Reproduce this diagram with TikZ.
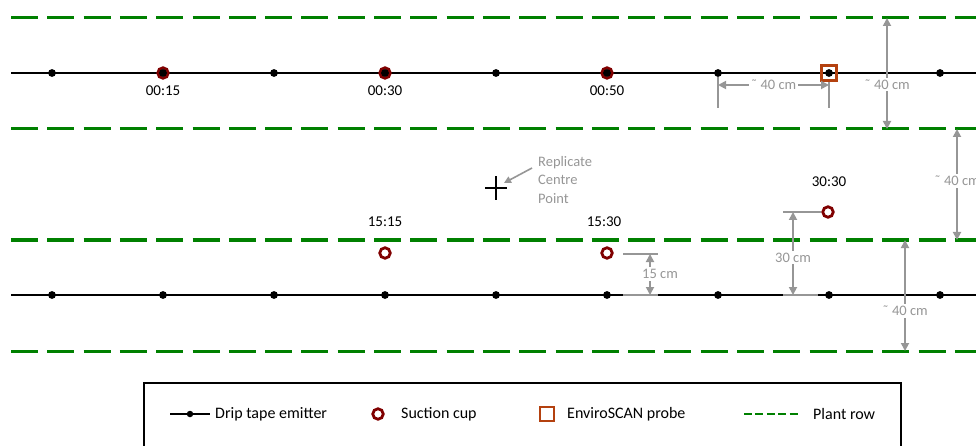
\documentclass[tikz,border=0pt]{standalone}
\usepackage{fontspec}
\setmainfont{Carlito}
\usetikzlibrary{arrows.meta}
\definecolor{rowgreen}{RGB}{0,128,0}
\definecolor{cupred}{RGB}{128,0,0}
\definecolor{probecol}{RGB}{180,65,15}
\definecolor{dimgray}{RGB}{150,150,150}
\begin{document}
\begin{tikzpicture}[x=1pt,y=-1pt,
  plantrow/.style={draw=rowgreen,line width=3pt,dash pattern=on 27pt off 9.3pt},
  drip/.style={draw=black,line width=1.8pt},
  emitter/.style={circle,fill=black,inner sep=0pt,minimum size=7.8pt},
  cup/.style={circle,draw=cupred,line width=2.8pt,inner sep=0pt,minimum size=10.5pt},
  probebox/.style={rectangle,draw=probecol,line width=2.6pt,inner sep=0pt,minimum size=15pt},
  dimarrow/.style={draw=dimgray,line width=1.8pt,{Triangle[length=8pt,width=8pt]}-{Triangle[length=8pt,width=8pt]}},
  dimline/.style={draw=dimgray,line width=1.8pt},
  dimlabel/.style={fill=white,text=dimgray,font=\fontsize{14.5}{16}\selectfont,inner sep=2pt},
  tlabel/.style={font=\fontsize{15}{18}\selectfont},
  legtext/.style={anchor=west,font=\fontsize{16}{19}\selectfont,inner sep=0pt},
  ]
\useasboundingbox (0,0) rectangle (976,446);

% plant rows
\foreach \y/\n in {18/1,129/2,240/3,351/4}{
  \coordinate (pl\n) at (11,\y);
  \coordinate (pr\n) at (976,\y);
  \draw[plantrow] (pl\n) -- (pr\n);
}

% drip tapes
\coordinate (dtl) at (11,73);  \coordinate (dtr) at (976,73);
\coordinate (dbl) at (11,295); \coordinate (dbr) at (976,295);
\draw[drip] (dtl) -- (dtr);
\draw[drip] (dbl) -- (dbr);

% top row suction cups (behind emitters)
\node[cup] (c0015) at (163,73) {};
\node[cup] (c0030) at (385,73) {};
\node[cup] (c0050) at (607,73) {};
\node[probebox] (probe) at (829,73) {};

% emitters
\foreach \i [evaluate=\i as \x using 52+111*(\i-1)] in {1,...,9}{
  \node[emitter] (t\i) at (\x,73) {};
  \node[emitter] (b\i) at (\x,295) {};
}

% labels top row
\node[tlabel] (l0015) at (163,91) {00:15};
\node[tlabel] (l0030) at (385,91) {00:30};
\node[tlabel] (l0050) at (607,91) {00:50};

% lower cups
\node[cup] (c1515) at (385,253) {};
\node[cup] (c1530) at (607,253) {};
\node[cup] (c3030) at (828,212) {};
\node[tlabel] (l1515) at (385,222) {15:15};
\node[tlabel] (l1530) at (604,222) {15:30};
\node[tlabel] (l3030) at (829,182) {30:30};

% replicate centre point
\node[inner sep=0pt,minimum size=0pt] (rcp) at (496,188) {};
\draw[line width=2pt] ([xshift=-11pt]rcp.center) -- ([xshift=11pt]rcp.center);
\draw[line width=2pt] ([yshift=-12pt]rcp.center) -- ([yshift=12pt]rcp.center);
\node[anchor=west,align=left,text=dimgray,font=\fontsize{14.5}{18.5}\selectfont,inner sep=0pt] (rcptext) at (538,180) {Replicate\\Centre\\Point};
\coordinate (rcpfrom) at (532,168);
\coordinate (rcpto) at (504,183);
\draw[draw=dimgray,line width=1.6pt,-{Triangle[length=7pt,width=7pt]}] (rcpfrom) -- (rcpto);

% horizontal ~40 cm between emitter and probe
\coordinate (hx1) at (718,108);
\coordinate (hx2) at (829,108);
\draw[dimline] (t7) -- (hx1);
\draw[dimline] (probe.south) -- (hx2);
\coordinate (ha1) at (718,85);
\coordinate (ha2) at (829,85);
\draw[dimarrow] (ha1) -- node[dimlabel,pos=0.5]{˜ 40 cm} (ha2);

% vertical ~40 cm top
\coordinate (va1) at (887,18);
\coordinate (va2) at (887,129);
\draw[dimarrow] (va1) -- node[dimlabel,pos=0.6]{˜ 40 cm} (va2);

% vertical ~40 cm between rows (right edge, cut off as in the original)
\coordinate (vb1) at (957,129);
\coordinate (vb2) at (957,240);
\draw[dimarrow] (vb1) -- node[dimlabel,pos=0.47]{˜ 40 cm} (vb2);

% vertical ~40 cm bottom
\coordinate (vc1) at (905,240);
\coordinate (vc2) at (905,351);
\draw[dimarrow] (vc1) -- node[dimlabel,pos=0.64]{˜ 40 cm} (vc2);

% 30 cm
\coordinate (e30a) at (783,212);
\coordinate (e30b) at (783,295);
\draw[dimline] (e30a) -- (c3030.west);
\coordinate (e30c) at (818,295);
\draw[dimline] (e30b) -- (e30c);
\coordinate (a30a) at (793,212);
\coordinate (a30b) at (793,295);
\draw[dimarrow] (a30a) -- node[dimlabel,pos=0.55]{30 cm} (a30b);

% 15 cm
\coordinate (e15a) at (623,254);
\coordinate (e15b) at (658,254);
\coordinate (e15c) at (623,295);
\coordinate (e15d) at (658,295);
\draw[dimline] (e15a) -- (e15b);
\draw[dimline] (e15c) -- (e15d);
\coordinate (a15a) at (650,254);
\coordinate (a15b) at (650,295);
\draw[dimarrow] (a15a) -- (a15b);
\node[dimlabel] (l15) at (660,274) {15 cm};

% legend
\coordinate (lgbl) at (144,460);
\coordinate (lgtl) at (144,383);
\coordinate (lgtr) at (901,383);
\coordinate (lgbr) at (901,460);
\draw[line width=1.5pt] (lgbl) -- (lgtl) -- (lgtr) -- (lgbr);

\coordinate (lgd1) at (170,414);
\coordinate (lgd2) at (210,414);
\draw[line width=1.6pt] (lgd1) -- (lgd2);
\node[emitter,minimum size=6.5pt] (lgem) at (190,414) {};
\node[legtext] (lgemt) at (215,414) {Drip tape emitter};

\node[cup] (lgcup) at (378,414) {};
\node[legtext] (lgcupt) at (401,414) {Suction cup};

\node[probebox,minimum size=14pt] (lgprobe) at (547,414) {};
\node[legtext] (lgprobet) at (567,414) {EnviroSCAN probe};

\coordinate (lgr1) at (744,414);
\coordinate (lgr2) at (798,414);
\draw[draw=rowgreen,line width=2pt,dash pattern=on 8pt off 3.4pt] (lgr1) -- (lgr2);
\node[legtext] (lgrowt) at (813,414) {Plant row};
\end{tikzpicture}
\end{document}
